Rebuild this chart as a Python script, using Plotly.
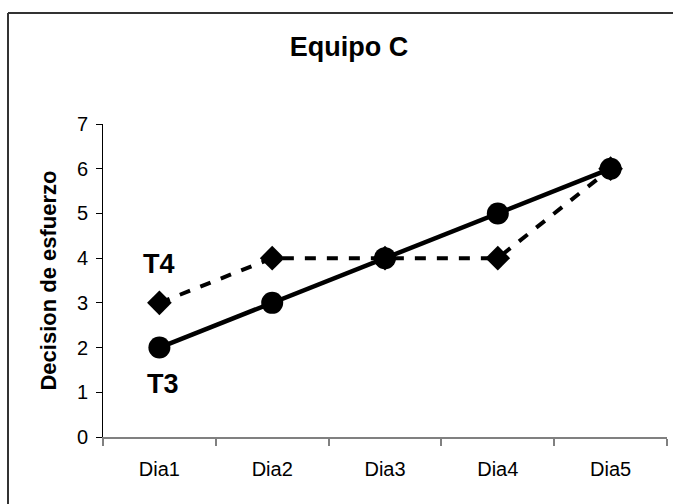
import plotly.graph_objects as go

dias = ["Dia1", "Dia2", "Dia3", "Dia4", "Dia5"]
t3 = [2, 3, 4, 5, 6]
t4 = [3, 4, 4, 4, 6]
y_ticks = [0, 1, 2, 3, 4, 5, 6, 7]

W, H = 673, 504
L, R, T, B = 103, 6, 124, 67
PW, PH = W - L - R, H - T - B

fig = go.Figure()
fig.add_trace(go.Scatter(x=dias, y=t4, mode="lines+markers", name="T4",
                         line=dict(color="black", width=4, dash="11px,11px"),
                         marker=dict(symbol="diamond", size=19, color="black")))
fig.add_trace(go.Scatter(x=dias, y=t3, mode="lines+markers", name="T3",
                         line=dict(color="black", width=4.5),
                         marker=dict(symbol="circle", size=22, color="black")))

fig.update_layout(
    width=W, height=H,
    margin=dict(l=L, r=R, t=T, b=B),
    paper_bgcolor="white", plot_bgcolor="white",
    showlegend=False,
    font=dict(family="Liberation Sans, Arial", color="black"),
    title=dict(text="<b>Equipo C</b>", x=349 / W, xanchor="center",
               y=1 - 47 / H, yanchor="middle", font=dict(size=27)),
)
fig.update_xaxes(type="category", range=[-0.5, 4.5], showline=True, linecolor="#808080",
                 linewidth=2, ticks="outside", ticklen=7, tickcolor="#808080",
                 tickwidth=1.5, tickson="boundaries", showgrid=False, zeroline=False,
                 tickfont=dict(size=20), ticklabelstandoff=13)
fig.update_yaxes(range=[0, 7], tickvals=y_ticks, showline=True, linecolor="black",
                 linewidth=1, ticks="outside", ticklen=6, tickcolor="black",
                 showgrid=False, zeroline=False, tickfont=dict(size=20),
                 ticklabelstandoff=4,
                 title=dict(text="<b>Decision de esfuerzo</b>", font=dict(size=22),
                            standoff=14))
fig.add_annotation(x=0, y=3.86, text="<b>T4</b>", showarrow=False,
                   font=dict(size=27))
fig.add_annotation(x=0.03, y=1.18, text="<b>T3</b>", showarrow=False,
                   font=dict(size=27))
# outer frame: top and left edges
fig.add_shape(type="line", xref="paper", yref="paper",
              x0=(8 - L) / PW, x1=(W - L) / PW, y0=1 + (T - 13) / PH, y1=1 + (T - 13) / PH,
              line=dict(color="#333333", width=2))
fig.add_shape(type="line", xref="paper", yref="paper",
              x0=(8 - L) / PW, x1=(8 - L) / PW, y0=-B / PH, y1=1 + (T - 13) / PH,
              line=dict(color="#333333", width=2))

fig.write_html("out.html", config={"displayModeBar": False},
               post_script="document.body.style.margin='0px';")
